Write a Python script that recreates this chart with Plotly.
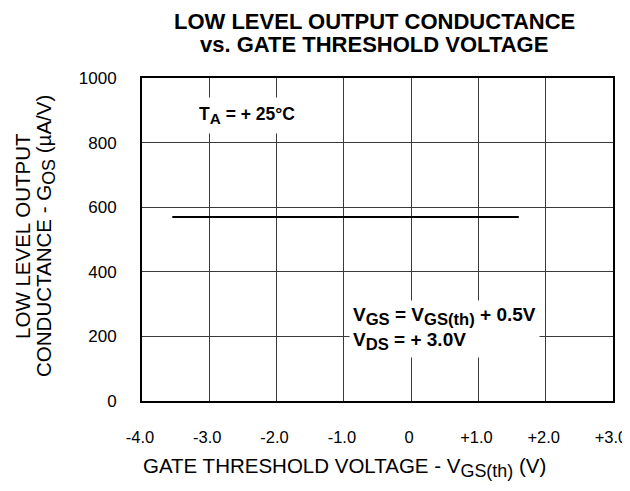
import plotly.graph_objects as go

# Data
vgs_th = [-3.55, 1.6]         # V
gos = [570, 570]              # uA/V

x_tick_vals = [-4, -3, -2, -1, 0, 1, 2, 3]
x_tick_text = ["-4.0", "-3.0", "-2.0", "-1.0", "0", "+1.0", "+2.0", "+3.0"]
y_tick_vals = [0, 200, 400, 600, 800, 1000]
y_tick_text = ["0", "200", "400", "600", "800", "1000"]

FONT = "Liberation Sans, Arial, Helvetica, sans-serif"


def sub(s):
    return "<sub><span style='font-size:125%'>" + s + "</span></sub>"


fig = go.Figure()
fig.add_trace(go.Scatter(
    x=vgs_th, y=gos, mode="lines",
    line=dict(color="black", width=2),
    showlegend=False, hoverinfo="skip",
))

fig.update_layout(
    width=622, height=475,
    margin=dict(l=134, r=17, t=70, b=82),
    paper_bgcolor="white", plot_bgcolor="white",
    font=dict(family=FONT, color="black", size=17),
    xaxis=dict(
        range=[-4, 3], tickvals=x_tick_vals, ticktext=x_tick_text,
        showgrid=True, gridcolor="#3a3a3a", gridwidth=1,
        showline=True, linecolor="black", linewidth=2, mirror=True,
        ticks="", ticklabelstandoff=20, ticklabelshift=-2,
        zeroline=False, automargin=False,
        tickfont=dict(size=16.5),
    ),
    yaxis=dict(
        range=[0, 1000], tickvals=y_tick_vals, ticktext=y_tick_text,
        showgrid=True, gridcolor="#3a3a3a", gridwidth=1,
        showline=True, linecolor="black", linewidth=2, mirror=True,
        ticks="", ticklabelstandoff=20, zeroline=False, automargin=False,
        tickfont=dict(size=17),
    ),
)

# Title (two lines, placed separately)
fig.add_annotation(
    x=0.4926, y=1.0 + 70 / 323, xref="paper", yref="paper",
    xanchor="center", yanchor="top", borderpad=0,
    text="<b>LOW LEVEL OUTPUT CONDUCTANCE</b>",
    showarrow=False, font=dict(family=FONT, size=22, color="black"),
)
fig.add_annotation(
    x=0.4926, y=(401 - 45) / 323, xref="paper", yref="paper",
    xanchor="center", yanchor="middle", borderpad=0,
    text="<b>vs. GATE THRESHOLD VOLTAGE</b>",
    showarrow=False, font=dict(family=FONT, size=22, color="black"),
)
# Axis titles
fig.add_annotation(
    x=0.429, y=-0.207, xref="paper", yref="paper",
    xanchor="center", yanchor="middle",
    text="GATE THRESHOLD VOLTAGE - V" + sub("GS(th)") + " (V)",
    showarrow=False, font=dict(family=FONT, size=20.5, color="black"),
)
fig.add_annotation(
    x=(23 - 142) / 471, y=0.511, xref="paper", yref="paper",
    xanchor="center", yanchor="middle", textangle=-90,
    text="LOW LEVEL OUTPUT",
    showarrow=False, font=dict(family=FONT, size=20.5, color="black"),
)
fig.add_annotation(
    x=(46 - 142) / 471, y=0.511, xref="paper", yref="paper",
    xanchor="center", yanchor="middle", textangle=-90,
    text="CONDUCTANCE - G" + sub("OS") + " (µA/V)",
    showarrow=False, font=dict(family=FONT, size=20.5, color="black"),
)

# In-plot notes
fig.add_annotation(
    x=-2.44, y=885, xref="x", yref="y",
    text="<b>T" + sub("A") + " = + 25°C</b>", showarrow=False,
    font=dict(family=FONT, size=17.5, color="black"),
    bgcolor="white", borderpad=6,
)
fig.add_annotation(
    x=-0.92, y=(401 - 329) / 323 * 1000, xref="x", yref="y", xanchor="left",
    yanchor="middle",
    text="<b>V" + sub("GS") + " = V" + sub("GS(th)") + " + 0.5V<br>V"
         + sub("DS") + " = + 3.0V</b>",
    showarrow=False, align="left",
    font=dict(family=FONT, size=19, color="black"),
    bgcolor="white", borderpad=3,
)

fig.write_html("out.html")
